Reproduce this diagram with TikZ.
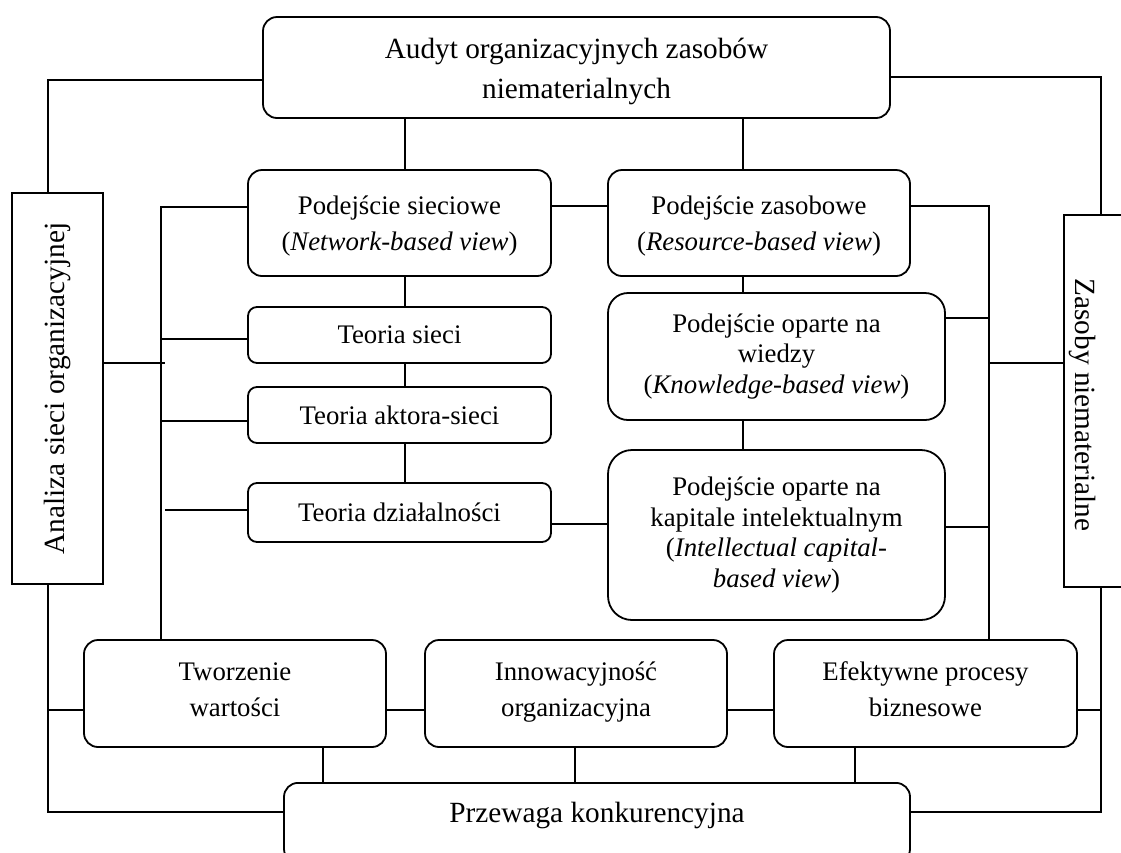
\documentclass[tikz,border=0pt]{standalone}
\usepackage{fontspec}
\setmainfont{Liberation Serif}
\usetikzlibrary{calc}
\newcommand{\firstln}{\rule{0pt}{0.95em}}
\newcommand{\topln}{\rule{0pt}{1.1em}}
\newcommand{\lastln}{\rule[-0.765em]{0pt}{0.765em}}
\begin{document}
\begin{tikzpicture}[x=1pt,y=-1pt,
  every node/.style={inner sep=0pt, align=center},
  rbox/.style={draw, line width=1.8pt, rounded corners=14pt},
  sbox/.style={draw, line width=1.8pt},
  conn/.style={line width=1.8pt},
  big/.style={font=\fontsize{29.3}{40}\selectfont},
  body/.style={font=\fontsize{26.8}{36}\selectfont},
  tight/.style={font=\fontsize{26.8}{30.5}\selectfont},
]
\useasboundingbox (0,0) rectangle (1121,852);

% nodes
\node[rbox,big,minimum width=627pt,minimum height=101pt] (top) at (576.5,67.5) {\firstln Audyt organizacyjnych zasobów\\niematerialnych};
\node[sbox,big,minimum width=91pt,minimum height=391pt] (left) at (57.5,388.5) {\rotatebox{90}{Analiza sieci organizacyjnej}};
\node[sbox,minimum width=120pt,minimum height=372pt,anchor=west] (right) at (1063,401) {};
\node[big,rotate=-90] (rtext) at (1082,405) {Zasoby niematerialne};

\node[rbox,body,minimum width=303pt,minimum height=106pt] (ps) at (399.5,223) {\firstln Podejście sieciowe\\(\textit{Network-based view})};
\node[rbox,body,minimum width=302pt,minimum height=106pt] (pz) at (759,223) {\firstln Podejście zasobowe\\(\textit{Resource-based view})};
\node[rbox,body,rounded corners=9pt,minimum width=303pt,minimum height=56pt] (ts) at (399.5,335) {Teoria sieci};
\node[rbox,body,rounded corners=9pt,minimum width=303pt,minimum height=56pt] (ta) at (399.5,415) {Teoria aktora-sieci};
\node[rbox,body,rounded corners=9pt,minimum width=303pt,minimum height=59pt] (td) at (399.5,512.5) {Teoria działalności};
\node[rbox,tight,rounded corners=20pt,minimum width=337pt,minimum height=127pt] (kb) at (776.5,356.5) {Podejście oparte na\\wiedzy\\(\textit{Knowledge-based view})};
\node[rbox,tight,rounded corners=24pt,minimum width=337pt,minimum height=170pt] (ic) at (776.5,535) {Podejście oparte na\\kapitale intelektualnym\\(\textit{Intellectual capital-}\\\textit{based view})};

\node[rbox,body,minimum width=302pt,minimum height=107pt] (tw) at (235,693.5) {\topln Tworzenie\\wartości\lastln};
\node[rbox,body,minimum width=302pt,minimum height=107pt] (in) at (576,693.5) {\topln Innowacyjność\\organizacyjna\lastln};
\node[rbox,body,minimum width=303pt,minimum height=107pt] (ef) at (925.5,693.5) {\topln Efektywne procesy\\biznesowe\lastln};
\node[rbox,minimum width=626pt,minimum height=80pt,anchor=north] (pk) at (597,782) {};
\node[big] (pktext) at (597,815) {Przewaga konkurencyjna};

% helper coordinates
\coordinate (xL) at (48,0);
\coordinate (xB) at (161,0);
\coordinate (xB2) at (165,0);
\coordinate (xV1) at (405,0);
\coordinate (xV2) at (743,0);
\coordinate (xR) at (989,0);
\coordinate (xRR) at (1101,0);
\coordinate (x1) at (323,0);
\coordinate (x2) at (575,0);
\coordinate (x3) at (855,0);
\coordinate (bTop) at (161,207);
\coordinate (rTop) at (989,206);
\coordinate (y318) at (0,318);
\coordinate (y339) at (0,339);
\coordinate (y363) at (0,363);
\coordinate (y421) at (0,421);
\coordinate (y510) at (0,510);
\coordinate (y524) at (0,524);
\coordinate (y527) at (0,527);
\coordinate (y710) at (0,710);
\coordinate (y812) at (0,812);

% top connections
\draw[conn] ($(top.west)+(0,12.5)$) -| (xL |- left.north);
\draw[conn] ($(top.east)+(0,9.5)$) -| (xRR |- right.north);
\draw[conn] (xV1 |- top.south) -- (xV1 |- ps.north);
\draw[conn] (xV2 |- top.south) -- (xV2 |- pz.north);
\draw[conn] ($(ps.east)+(0,-17)$) -- ($(pz.west)+(0,-17)$);

% left bus
\draw[conn] (ps.west |- bTop) -- (bTop) -- (bTop |- tw.north);
\draw[conn] (xB |- y339) -- (ts.west |- y339);
\draw[conn] (xB |- y421) -- (ta.west |- y421);
\draw[conn] (xB2 |- y510) -- (td.west |- y510);
\draw[conn] (left.east |- y363) -- (xB2 |- y363);

% left column verticals
\draw[conn] (xV1 |- ps.south) -- (xV1 |- ts.north);
\draw[conn] (xV1 |- ts.south) -- (xV1 |- ta.north);
\draw[conn] (xV1 |- ta.south) -- (xV1 |- td.north);
\draw[conn] (td.east |- y524) -- (ic.west |- y524);

% right column
\draw[conn] (xV2 |- pz.south) -- (xV2 |- kb.north);
\draw[conn] (xV2 |- kb.south) -- (xV2 |- ic.north);
\draw[conn] (pz.east |- rTop) -- (rTop) -- (rTop |- ef.north);
\draw[conn] (kb.east |- y318) -- (xR |- y318);
\draw[conn] (ic.east |- y527) -- (xR |- y527);
\draw[conn] (xR |- y363) -- (right.west |- y363);

% bottom
\draw[conn] (xL |- left.south) -- (xL |- y812) -- (pk.west |- y812);
\draw[conn] (xL |- y710) -- (tw.west |- y710);
\draw[conn] (tw.east |- y710) -- (in.west |- y710);
\draw[conn] (in.east |- y710) -- (ef.west |- y710);
\draw[conn] (ef.east |- y710) -- (xRR |- y710);
\draw[conn] (xRR |- right.south) -- (xRR |- y812) -- (pk.east |- y812);
\draw[conn] (x1 |- tw.south) -- (x1 |- pk.north);
\draw[conn] (x2 |- in.south) -- (x2 |- pk.north);
\draw[conn] (x3 |- ef.south) -- (x3 |- pk.north);
\end{tikzpicture}
\end{document}
